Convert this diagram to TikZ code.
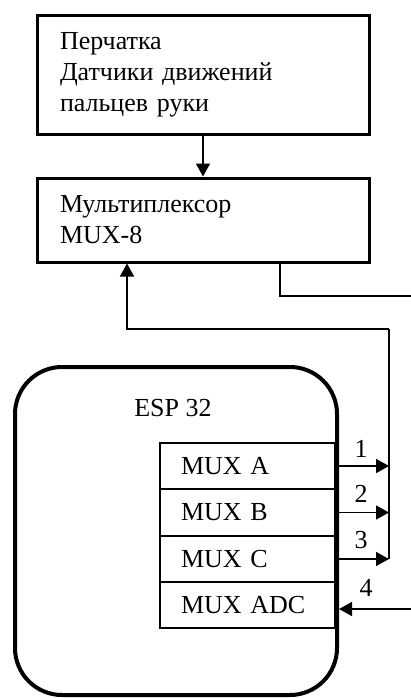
\documentclass[tikz,border=0pt]{standalone}
\usepackage{fontspec}
\setmainfont{Liberation Serif}
\usetikzlibrary{positioning, arrows.meta}

\begin{document}
\begin{tikzpicture}[x=1pt, y=-1pt,
  font=\fontsize{26}{31}\selectfont,
  blk/.style={draw, line width=3pt, minimum width=332pt, inner xsep=23pt, text width=286pt, align=left},
  reg/.style={draw, line width=1.3pt, minimum width=175pt, minimum height=46pt, inner xsep=21pt, text width=133pt, align=left},
  wire/.style={line width=1.6pt},
  arr/.style={wire, -{Triangle[length=13pt, width=14pt]}}]
\useasboundingbox (0,0) rectangle (411,698);
\node[blk, minimum height=118pt] (glove) at (203,75) {Перчатка\\Датчики движений\\пальцев руки};
\node[blk, minimum height=84pt] (mux) at (203,220) {Мультиплексор\\MUX-8};
\node[draw, line width=4pt, rounded corners=47pt, minimum width=322pt, minimum height=328pt] (esp) at (176,531) {};
\node (esplbl) at (173,408) {ESP 32};
\node[reg] (muxa) at (247.5,466) {MUX A};
\node[reg] (muxb) at (247.5,512.5) {MUX B};
\node[reg] (muxc) at (247.5,559) {MUX C};
\node[reg] (muxadc) at (247.5,605) {MUX ADC};
\coordinate (exit) at (411,296);
\coordinate (bus) at (389,329);
\coordinate (in4) at (411,609);
\draw[arr] (glove) -- (mux);
\draw[wire] ([xshift=77pt]mux.south) |- (exit);
\draw[arr] (bus) -| ([xshift=-76pt]mux.south);
\draw[wire] (bus) -- (bus |- muxc);
\foreach \r in {muxa, muxb, muxc}
  \draw[arr] (\r.east -| esp.east) -- (\r.east -| bus);
\draw[arr] (in4) -- (in4 -| esp.east);
\node (n1) at (361,449) {1};
\node (n2) at (361,494) {2};
\node (n3) at (361,540) {3};
\node (n4) at (366,588) {4};
\end{tikzpicture}
\end{document}
